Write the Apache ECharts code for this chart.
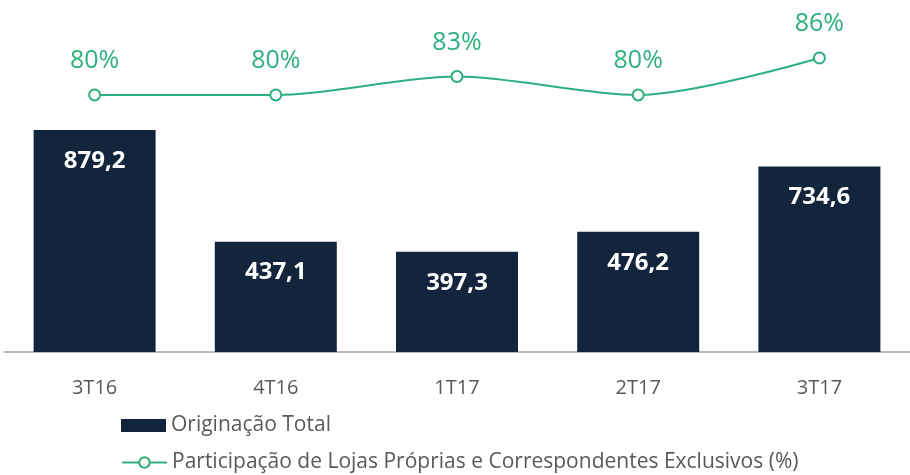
<!DOCTYPE html>
<html>
<head>
<meta charset="utf-8">
<script src="https://cdn.jsdelivr.net/npm/echarts@6/dist/echarts.min.js"></script>
<style>
    html, body {margin: 0; padding: 0; background: #fff;}
    #main {width: 910px; height: 475px;}
</style>
</head>
<body>
<div id="main"></div>
<script>
var categories = ['3T16', '4T16', '1T17', '2T17', '3T17'];
var originacao = [879.2, 437.1, 397.3, 476.2, 734.6];
var participacao = [80, 80, 83, 80, 86];

var barColor = '#12253c';
var lineColor = '#2eb07c';
var legendText = {color: '#595959', fontSize: 21, fontFamily: 'Open Sans'};

var myChart = echarts.init(document.getElementById('main'));
myChart.setOption({
    animation: false,
    grid: {left: 4, top: 0, width: 910, bottom: 123},
    //两行图例分开放，位置好控制
    legend: [{
        left: 121,
        top: 415,
        padding: 0,
        itemWidth: 45,
        itemHeight: 13,
        textStyle: legendText,
        data: [{name: 'Originação Total', icon: 'rect'}]
    }, {
        left: 121,
        top: 452,
        padding: 0,
        itemWidth: 45,
        itemHeight: 13,
        textStyle: legendText,
        data: ['Participação de Lojas Próprias e Correspondentes Exclusivos (%)']
    }],
    xAxis: {
        type: 'category',
        data: categories,
        axisLine: {lineStyle: {color: '#a6a6a6', width: 1.5}},
        axisTick: {show: false},
        axisLabel: {color: '#595959', fontSize: 20, fontFamily: 'Open Sans', margin: 26}
    },
    yAxis: [{
        type: 'value', min: 0, max: 1394, show: false, splitLine: {show: false}
    }, {
        type: 'value', min: 38.3, max: 95.4, show: false, splitLine: {show: false}
    }],
    series: [{
        name: 'Originação Total',
        type: 'bar',
        data: originacao,
        barWidth: 122,
        itemStyle: {color: barColor},
        label: {
            show: true,
            position: 'insideTop',
            distance: 19,
            color: '#fff',
            fontSize: 24,
            fontWeight: 'bold',
            fontFamily: 'Open Sans',
            formatter: function (p) {
                return p.value.toFixed(1).replace('.', ',');
            }
        }
    }, {
        name: 'Participação de Lojas Próprias e Correspondentes Exclusivos (%)',
        type: 'line',
        yAxisIndex: 1,
        data: participacao,
        smooth: 0.3,
        symbol: 'emptyCircle',
        symbolSize: 11,
        lineStyle: {color: lineColor, width: 2},
        itemStyle: {color: lineColor, borderWidth: 2},
        label: {
            show: true,
            position: 'top',
            distance: 15,
            color: lineColor,
            fontSize: 25,
            fontFamily: 'Open Sans',
            formatter: '{c}%'
        }
    }]
});
</script>
</body>
</html>
